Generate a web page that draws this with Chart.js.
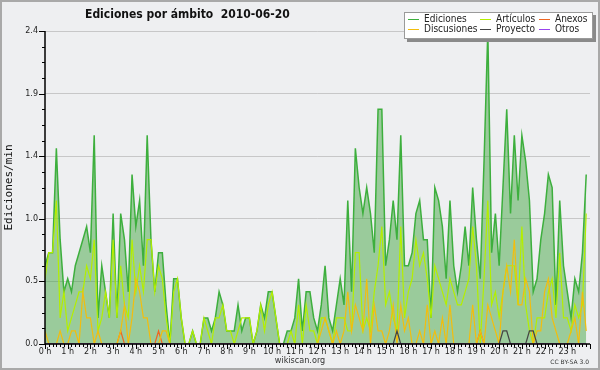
<!DOCTYPE html>
<html lang="es">
<head>
<meta charset="UTF-8">
<title>Ediciones por ámbito 2010-06-20</title>
<script src="https://cdn.jsdelivr.net/npm/chart.js@4.4.1/dist/chart.umd.min.js"></script>
<style>
    body { margin: 0; background: #eeeff1; }
    .wrap { position: relative; width: 600px; height: 370px; overflow: hidden; background: #eeeff1; }
    #chart { position: absolute; left: 0; top: 0; }
    .frame { position: absolute; left: 0; top: 0; width: 600px; height: 370px; box-sizing: border-box; border: 2px solid #a9a9a9; pointer-events: none; }
    .title { position: absolute; left: 85px; top: 7px; font: bold 12px/14px 'DejaVu Sans Condensed', 'DejaVu Sans', sans-serif; font-stretch: condensed; white-space: pre; color: #111; }
    .legend { position: absolute; left: 404px; top: 12px; width: 189px; height: 27px; box-sizing: border-box; background: #fff; border: 1px solid #9a9a9a; box-shadow: 3px 3px 0 #8a8a8a; }
    .legend .item { position: absolute; font: 10px/12px 'DejaVu Sans Condensed', 'DejaVu Sans', sans-serif; font-stretch: condensed; color: #222; white-space: nowrap; }
    .legend .item i { display: inline-block; width: 11px; height: 1px; vertical-align: middle; margin-right: 5px; }
    .site { position: absolute; left: 0; width: 600px; top: 355px; text-align: center; font: 9px/11px 'DejaVu Sans Condensed', 'DejaVu Sans', sans-serif; font-stretch: condensed; color: #333; }
    .lic { position: absolute; right: 11px; top: 358px; font: 6px/8px 'DejaVu Sans', sans-serif; color: #333; }
</style>
</head>
<body>
<div class="wrap">
    <canvas id="chart" width="600" height="370"></canvas>
    <div class="title">Ediciones por ámbito  2010-06-20</div>
    <div class="legend">
        <div class="item" style="left:3px;top:0px"><i style="background:#3daf3d"></i>Ediciones</div>
        <div class="item" style="left:75px;top:0px"><i style="background:#b4ee00"></i>Artículos</div>
        <div class="item" style="left:134px;top:0px"><i style="background:#ee6622"></i>Anexos</div>
        <div class="item" style="left:3px;top:10px"><i style="background:#f2bd0e"></i>Discusiones</div>
        <div class="item" style="left:75px;top:10px"><i style="background:#444"></i>Proyecto</div>
        <div class="item" style="left:134px;top:10px"><i style="background:#9944ee"></i>Otros</div>
    </div>
    <div class="site">wikiscan.org</div>
    <div class="lic">CC BY-SA 3.0</div>
    <div class="frame"></div>
</div>
<script>
// etiquetas del eje x (una por hora) y marcas del eje y
const hourLabels = ['0 h', '1 h', '2 h', '3 h', '4 h', '5 h', '6 h', '7 h', '8 h', '9 h', '10 h', '11 h',
    '12 h', '13 h', '14 h', '15 h', '16 h', '17 h', '18 h', '19 h', '20 h', '21 h', '22 h', '23 h'];
const yTicks = [0, 0.48, 0.96, 1.44, 1.92, 2.4];

// ediciones/min por intervalo de 10 minutos (144 intervalos), una fila = 2 horas
const ediciones = [
    0.6, 0.7, 0.7, 1.5, 0.8, 0.4, 0.5, 0.4, 0.6, 0.7, 0.8, 0.9,
    0.7, 1.6, 0.2, 0.6, 0.4, 0.2, 1.0, 0.2, 1.0, 0.8, 0.4, 1.3,
    0.9, 1.1, 0.6, 1.6, 0.8, 0.4, 0.7, 0.7, 0.3, 0.0, 0.5, 0.5,
    0.2, 0.0, 0.0, 0.1, 0.0, 0.0, 0.2, 0.2, 0.1, 0.2, 0.4, 0.3,
    0.1, 0.1, 0.1, 0.3, 0.1, 0.2, 0.2, 0.0, 0.1, 0.3, 0.2, 0.4,
    0.4, 0.2, 0.0, 0.0, 0.1, 0.1, 0.2, 0.5, 0.1, 0.4, 0.4, 0.2,
    0.1, 0.3, 0.6, 0.2, 0.1, 0.3, 0.5, 0.3, 1.1, 0.4, 1.5, 1.2,
    1.0, 1.2, 1.0, 0.7, 1.8, 1.8, 0.6, 0.8, 1.1, 0.8, 1.6, 0.6,
    0.6, 0.7, 1.0, 1.1, 0.8, 0.8, 0.2, 1.2, 1.1, 0.9, 0.5, 1.1,
    0.6, 0.4, 0.6, 0.9, 0.6, 1.2, 0.8, 0.5, 1.4, 2.4, 0.7, 1.0,
    0.6, 1.2, 1.8, 1.0, 1.6, 1.1, 1.6, 1.4, 1.1, 0.4, 0.5, 0.8,
    1.0, 1.3, 1.2, 0.3, 1.1, 0.6, 0.4, 0.2, 0.5, 0.4, 0.7, 1.3
];
const articulos = [
    0.5, 0.7, 0.7, 1.1, 0.2, 0.4, 0.1, 0.2, 0.3, 0.4, 0.4, 0.6,
    0.5, 0.8, 0.1, 0.2, 0.4, 0.2, 0.8, 0.2, 0.6, 0.3, 0.2, 0.8,
    0.4, 0.6, 0.4, 0.8, 0.8, 0.4, 0.6, 0.5, 0.2, 0.0, 0.4, 0.5,
    0.2, 0.0, 0.0, 0.1, 0.0, 0.0, 0.2, 0.1, 0.0, 0.2, 0.2, 0.3,
    0.1, 0.1, 0.0, 0.1, 0.2, 0.2, 0.2, 0.0, 0.1, 0.3, 0.1, 0.3,
    0.4, 0.2, 0.0, 0.0, 0.0, 0.1, 0.0, 0.3, 0.0, 0.3, 0.1, 0.1,
    0.0, 0.2, 0.2, 0.1, 0.0, 0.2, 0.2, 0.2, 0.1, 0.1, 0.7, 0.7,
    0.1, 0.2, 0.1, 0.4, 0.6, 0.9, 0.3, 0.4, 0.2, 0.1, 0.9, 0.2,
    0.4, 0.5, 0.8, 0.6, 0.7, 0.5, 0.2, 0.6, 0.5, 0.4, 0.3, 0.5,
    0.4, 0.3, 0.3, 0.4, 0.5, 0.9, 0.6, 0.0, 0.5, 1.1, 0.3, 0.4,
    0.2, 0.4, 0.6, 0.6, 0.6, 0.3, 0.9, 0.3, 0.1, 0.0, 0.2, 0.2,
    0.2, 0.4, 0.5, 0.2, 0.7, 0.2, 0.2, 0.1, 0.3, 0.2, 0.3, 1.0
];
const anexos = [
    0, 0, 0, 0, 0, 0, 0, 0, 0, 0, 0, 0,
    0, 0, 0, 0, 0, 0, 0, 0, 0.1, 0, 0, 0,
    0, 0, 0, 0, 0, 0, 0.1, 0, 0, 0, 0, 0,
    0, 0, 0, 0, 0, 0, 0, 0, 0, 0, 0, 0,
    0, 0, 0, 0, 0, 0, 0, 0, 0, 0, 0, 0,
    0, 0, 0, 0, 0, 0, 0, 0, 0, 0, 0, 0,
    0, 0, 0, 0, 0, 0, 0, 0, 0, 0, 0, 0,
    0, 0, 0, 0, 0, 0, 0, 0, 0, 0, 0, 0,
    0, 0, 0, 0, 0, 0, 0, 0, 0, 0, 0, 0,
    0, 0, 0, 0, 0, 0, 0, 0.1, 0, 0, 0, 0,
    0, 0, 0, 0, 0, 0, 0, 0, 0, 0, 0, 0,
    0, 0, 0, 0, 0, 0, 0, 0, 0, 0, 0, 0
];
const discusiones = [
    0.1, 0.0, 0.0, 0.0, 0.1, 0.0, 0.0, 0.1, 0.1, 0.0, 0.4, 0.2,
    0.2, 0.0, 0.1, 0.0, 0.0, 0.0, 0.0, 0.0, 0.1, 0.3, 0.0, 0.2,
    0.5, 0.4, 0.2, 0.2, 0.0, 0.0, 0.0, 0.1, 0.1, 0.0, 0.0, 0.0,
    0.0, 0.0, 0.0, 0.0, 0.0, 0.0, 0.0, 0.0, 0.0, 0.0, 0.0, 0.0,
    0.0, 0.0, 0.0, 0.0, 0.0, 0.0, 0.0, 0.0, 0.0, 0.0, 0.0, 0.0,
    0.0, 0.0, 0.0, 0.0, 0.0, 0.0, 0.0, 0.0, 0.0, 0.0, 0.0, 0.0,
    0.0, 0.1, 0.2, 0.1, 0.0, 0.1, 0.0, 0.1, 0.4, 0.1, 0.3, 0.2,
    0.1, 0.5, 0.0, 0.3, 0.1, 0.1, 0.0, 0.1, 0.3, 0.0, 0.3, 0.1,
    0.2, 0.0, 0.0, 0.1, 0.0, 0.3, 0.0, 0.1, 0.0, 0.2, 0.0, 0.3,
    0.0, 0.0, 0.0, 0.0, 0.0, 0.3, 0.0, 0.1, 0.0, 0.3, 0.2, 0.1,
    0.0, 0.4, 0.6, 0.4, 0.8, 0.3, 0.3, 0.5, 0.4, 0.0, 0.1, 0.1,
    0.4, 0.5, 0.2, 0.1, 0.0, 0.0, 0.0, 0.1, 0.2, 0.0, 0.4, 0.1
];
const proyecto = [
    0, 0, 0, 0, 0, 0, 0, 0, 0, 0, 0, 0,
    0, 0, 0, 0, 0, 0, 0, 0, 0, 0, 0, 0,
    0, 0, 0, 0, 0, 0, 0, 0, 0, 0, 0, 0,
    0, 0, 0, 0, 0, 0, 0, 0, 0, 0, 0, 0,
    0, 0, 0, 0, 0, 0, 0, 0, 0, 0, 0, 0,
    0, 0, 0, 0, 0, 0, 0, 0, 0, 0, 0, 0,
    0, 0, 0, 0, 0, 0, 0, 0, 0, 0, 0, 0,
    0, 0, 0, 0, 0, 0, 0, 0, 0, 0.1, 0, 0,
    0, 0, 0, 0, 0, 0, 0, 0, 0, 0, 0, 0,
    0, 0, 0, 0, 0, 0, 0, 0, 0, 0, 0, 0,
    0, 0.1, 0.1, 0, 0, 0, 0, 0, 0.1, 0.1, 0, 0,
    0, 0, 0, 0, 0, 0, 0, 0, 0, 0, 0, 0
];
const otros = [
    0, 0, 0, 0, 0, 0, 0, 0, 0, 0, 0, 0,
    0, 0, 0, 0, 0, 0, 0, 0, 0, 0, 0, 0,
    0, 0, 0, 0, 0, 0, 0, 0, 0, 0, 0, 0,
    0, 0, 0, 0, 0, 0, 0, 0, 0, 0, 0, 0,
    0, 0, 0, 0, 0, 0, 0, 0, 0, 0, 0, 0,
    0, 0, 0, 0, 0, 0, 0, 0, 0, 0, 0, 0,
    0, 0, 0, 0, 0, 0, 0, 0, 0, 0, 0, 0,
    0, 0, 0, 0, 0, 0, 0, 0, 0, 0, 0, 0,
    0, 0, 0, 0, 0, 0, 0, 0, 0, 0, 0, 0,
    0, 0, 0, 0, 0, 0, 0, 0, 0, 0, 0, 0,
    0, 0, 0, 0, 0, 0, 0, 0, 0, 0, 0, 0,
    0, 0, 0, 0, 0, 0, 0, 0, 0, 0, 0, 0
];

// estilos de cada serie (order alto = se dibuja debajo)
const series = [
    { label: 'Ediciones', values: ediciones, color: '#3daf3d', width: 1.5, order: 6, fill: 'rgba(50, 160, 50, 0.45)' },
    { label: 'Artículos', values: articulos, color: '#b4ee00', width: 1.2, order: 5 },
    { label: 'Anexos', values: anexos, color: '#ee6622', width: 1.2, order: 4 },
    { label: 'Discusiones', values: discusiones, color: '#f2bd0e', width: 1.2, order: 3 },
    { label: 'Proyecto', values: proyecto, color: '#444444', width: 1.2, order: 2 },
    { label: 'Otros', values: otros, color: '#9944ee', width: 1.2, order: 1 }
];

const toPoints = arr => arr.map((v, i) => ({ x: i, y: v }));

// ejes negros con marcas mayores y menores, encima de las series
const axisLines = {
    id: 'axisLines',
    afterDatasetsDraw(chart) {
        const { ctx, chartArea: area, scales } = chart;
        const xs = scales.x, ys = scales.y;
        ctx.save();
        ctx.strokeStyle = '#000';
        ctx.lineWidth = 1;
        ctx.beginPath();
        for (let k = 0; k <= 20; k++) {
            const py = Math.round(ys.getPixelForValue(k * 0.12)) + 0.5;
            const len = k % 4 === 0 ? 6 : 3;
            ctx.moveTo(area.left - len, py);
            ctx.lineTo(area.left, py);
        }
        for (let i = 0; i <= 144; i++) {
            const px = Math.round(xs.getPixelForValue(i)) + 0.5;
            const len = i % 6 === 0 ? 5 : 3;
            ctx.moveTo(px, area.bottom);
            ctx.lineTo(px, area.bottom + len);
        }
        ctx.stroke();
        ctx.lineWidth = 1.5;
        ctx.beginPath();
        ctx.moveTo(area.left, area.top);
        ctx.lineTo(area.left, area.bottom);
        ctx.lineTo(area.right, area.bottom);
        ctx.stroke();
        ctx.restore();
    }
};

const ctx = document.getElementById('chart').getContext('2d');
new Chart(ctx, {
    type: 'line',
    data: {
        datasets: series.map(s => ({
            label: s.label,
            data: toPoints(s.values),
            borderColor: s.color,
            borderWidth: s.width,
            backgroundColor: s.fill || 'transparent',
            fill: s.fill ? 'origin' : false,
            pointRadius: 0,
            tension: 0,
            order: s.order
        }))
    },
    options: {
        responsive: false,
        animation: false,
        layout: { padding: { top: 31, right: 10, left: 0, bottom: 0 } },
        plugins: {
            legend: { display: false },
            tooltip: { enabled: false },
            filler: { drawTime: 'beforeDatasetsDraw' }
        },
        scales: {
            x: {
                type: 'linear',
                min: 0,
                max: 144,
                border: { display: false },
                grid: { display: false, drawTicks: false },
                afterBuildTicks: s => { s.ticks = hourLabels.map((l, h) => ({ value: h * 6 })); },
                afterFit: s => { s.height = 26; },
                ticks: {
                    autoSkip: false,
                    maxRotation: 0,
                    padding: 3,
                    color: '#222',
                    font: { family: 'DejaVu Sans', size: 8 },
                    callback: (v, i) => hourLabels[i]
                }
            },
            y: {
                min: 0,
                max: 2.4,
                border: { display: false },
                grid: { color: 'rgba(150, 150, 150, 0.45)', drawTicks: false },
                afterBuildTicks: s => { s.ticks = yTicks.map(v => ({ value: v })); },
                afterFit: s => { s.width = 45; },
                ticks: {
                    padding: 7,
                    color: '#222',
                    font: { family: 'DejaVu Sans', size: 8 },
                    callback: v => v.toFixed(1)
                },
                title: {
                    display: true,
                    text: 'Ediciones/min',
                    color: '#111',
                    font: { family: 'DejaVu Sans Mono', size: 11 },
                    padding: { top: 3, bottom: 0 }
                }
            }
        }
    },
    plugins: [axisLines]
});
</script>
</body>
</html>
